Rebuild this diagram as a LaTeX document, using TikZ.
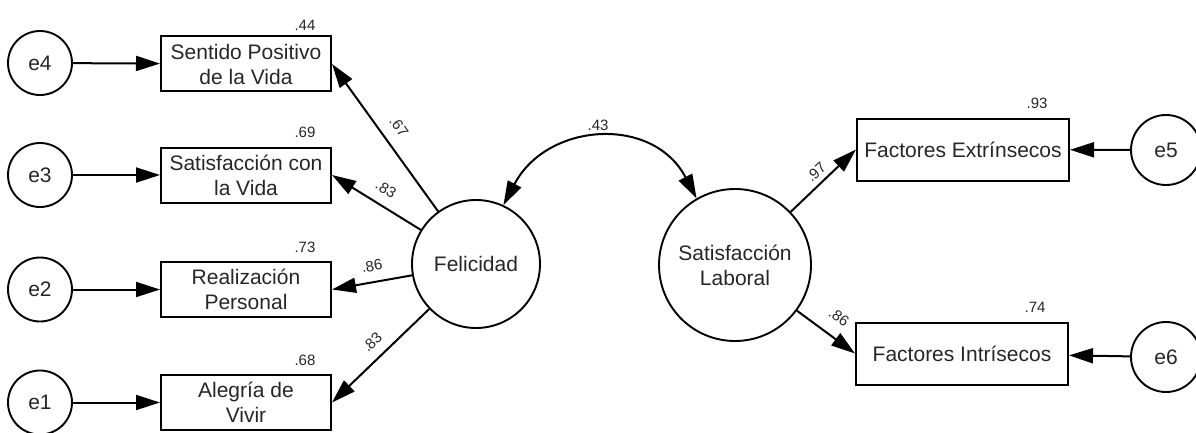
\documentclass[tikz,border=0pt]{standalone}
\usepackage{fontspec}
\setmainfont{Liberation Sans}
\usetikzlibrary{arrows.meta}
\begin{document}
\begin{tikzpicture}[x=1pt,y=1pt,
  every node/.style={font=\fontsize{21}{25}\selectfont, text=black!85},
  obs/.style={draw=black, line width=2pt, minimum width=170pt, minimum height=55pt, align=center, inner sep=2pt},
  obsw/.style={obs, minimum width=212pt, minimum height=62pt},
  err/.style={draw=black, circle, line width=1.9pt, minimum size=64pt, inner sep=0pt},
  errw/.style={err, minimum size=70pt},
  lat/.style={draw=black, circle, line width=1.9pt, inner sep=0pt, align=center},
  num/.style={font=\fontsize{15}{18}\selectfont, inner sep=0pt},
  arr/.style={line width=2pt, -{Triangle[length=24pt,width=15pt]}},
  cov/.style={line width=2pt, {Triangle[length=24pt,width=15pt]}-{Triangle[length=24pt,width=15pt]}}
]
\useasboundingbox (0,0) rectangle (1196,432);

% error terms, left
\node[err] (e4) at (40,369) {e4};
\node[err] (e3) at (40,257) {e3};
\node[err] (e2) at (40,142.5) {e2};
\node[err] (e1) at (40,29.5) {e1};

% observed, left
\node[obs] (b1) at (246,368) {Sentido Positivo\\de la Vida};
\node[obs] (b2) at (246,257) {Satisfacción con\\la Vida};
\node[obs] (b3) at (246,142.5) {Realización\\Personal};
\node[obs] (b4) at (246,29.5) {Alegría de\\Vivir};

% latent
\node[lat, minimum size=128pt] (fel) at (476,168) {Felicidad};
\node[lat, minimum size=152pt] (sat) at (735,167) {Satisfacción\\Laboral};

% observed, right
\node[obsw] (b5) at (963,282.5) {Factores Extrínsecos};
\node[obsw] (b6) at (962,78.5) {Factores Intrísecos};

% error terms, right
\node[errw] (e5) at (1166,282) {e5};
\node[errw] (e6) at (1166,75) {e6};

% arrows
\draw[arr] (e4) -- (b1);
\draw[arr] (e3) -- (b2);
\draw[arr] (e2) -- (b3);
\draw[arr] (e1) -- (b4);
\draw[arr] (fel) -- (b1.east);
\draw[arr] (fel) -- (b2.east);
\draw[arr] (fel) -- (b3.east);
\draw[arr] (fel) -- (b4.east);
\draw[arr] (sat) -- (b5.west);
\draw[arr] (sat) -- (b6.west);
\draw[arr] (e5) -- (b5);
\draw[arr] (e6) -- (b6);
\draw[cov] (fel.65) .. controls (547,310) and (653,317) .. (sat.120);

% numbers
\node[num] (r1) at (305,407) {.44};
\node[num] (r2) at (305,300) {.69};
\node[num] (r3) at (305,185) {.73};
\node[num] (r4) at (305,72) {.68};
\node[num] (r5) at (1037,329) {.93};
\node[num] (r6) at (1035,125) {.74};
\node[num] (c1) at (598,307) {.43};
\node[num, rotate=-54] (l1) at (399,305) {.67};
\node[num, rotate=-32] (l2) at (386,243) {.83};
\node[num, rotate=10] (l3) at (372,166) {.86};
\node[num, rotate=44] (l4) at (372,90) {.83};
\node[num, rotate=43] (l5) at (816,260) {.97};
\node[num, rotate=-36] (l6) at (839,115) {.86};
\end{tikzpicture}
\end{document}
